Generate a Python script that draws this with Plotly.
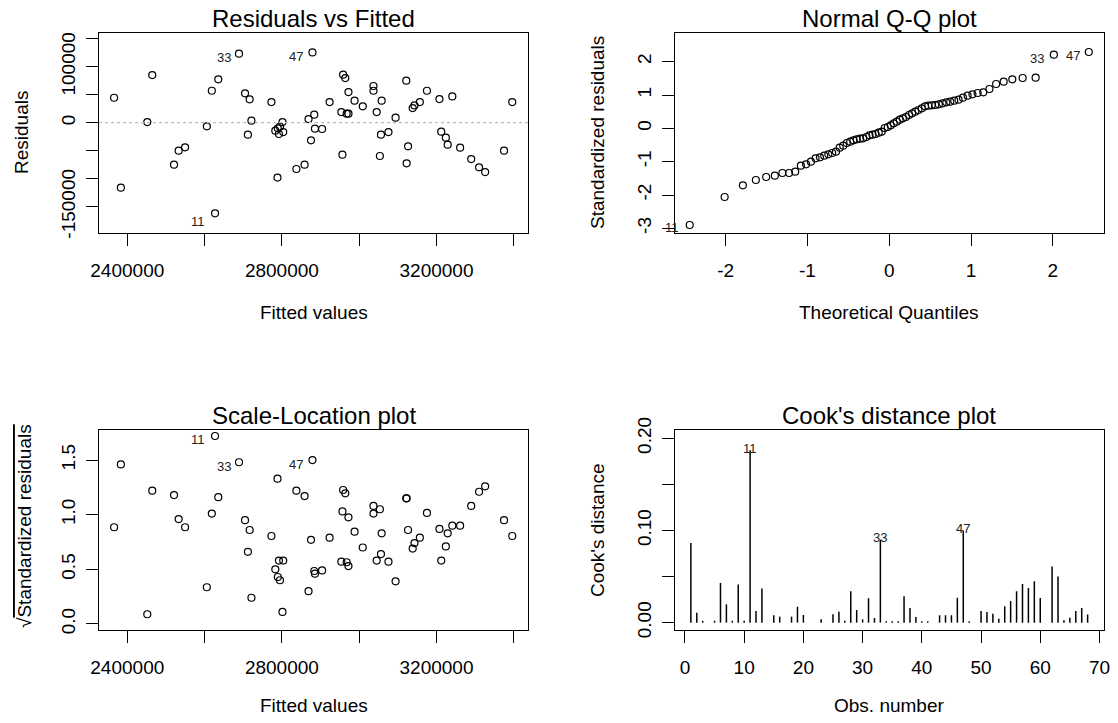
import plotly.graph_objects as go

# ---------------- data ----------------
fitted = [2365850, 2383400, 2451700, 2464600, 2520900, 2532900, 2549500, 2605800,
          2618700, 2627000, 2635400, 2689000, 2704600, 2716600, 2721200, 2712000,
          2772900, 2783000, 2789500, 2795000, 2792300, 2803400, 2801500, 2788600,
          2837500, 2858700, 2868900, 2875300, 2879000, 2883700, 2885500, 2904000,
          2923400, 2956600, 2953800, 2958400, 2964000, 2967600, 2972200, 2972200,
          2988000, 3009200, 3036900, 3036900, 3045200, 3058100, 3056300, 3053500,
          3075700, 3094100, 3121800, 3126400, 3122700, 3138400, 3143000, 3156900,
          3175300, 3207600, 3212200, 3224200, 3228900, 3240900, 3261100, 3289800,
          3310100, 3325800, 3374700, 3395900]

residuals = [44600, -116000, 1200, 85100, -75000, -50000, -44000, -6500,
             57100, -161800, 77400, 123200, 52400, 41700, 3600, -21400,
             36900, -14300, -10100, -7100, -20200, -16700, 1200, -98000,
             -82700, -75000, 6500, -31500, 125500, 14300, -10700, -11300,
             36900, -57100, 19000, 85700, 79700, 16100, 16100, 54700,
             39300, 29200, 65500, 57100, 19000, 39300, -21400, -59500,
             -16700, 8900, 75000, -42200, -72600, 26200, 30900, 36900,
             57100, 42200, -16100, -26800, -39300, 47000, -44600, -64900,
             -79700, -88100, -50000, 36900]

sqrt_abs_std = [0.885, 1.46, 0.089, 1.22, 1.18, 0.96, 0.885, 0.336,
                1.01, 1.72, 1.16, 1.48, 0.95, 0.86, 0.24, 0.66,
                0.805, 0.50, 0.43, 0.40, 0.58, 0.58, 0.11, 1.33,
                1.22, 1.17, 0.30, 0.77, 1.50, 0.485, 0.46, 0.49,
                0.79, 1.03, 0.57, 1.226, 1.196, 0.565, 0.53, 0.976,
                0.845, 0.70, 1.08, 1.01, 0.58, 0.83, 0.64, 1.05,
                0.57, 0.39, 1.15, 0.86, 1.15, 0.69, 0.74, 0.79,
                1.016, 0.87, 0.58, 0.71, 0.83, 0.90, 0.90, 1.08,
                1.21, 1.26, 0.95, 0.805]

qq_theoretical = [-2.44, -2.013, -1.790, -1.631, -1.505, -1.399, -1.307, -1.225,
                  -1.150, -1.081, -1.017, -0.958, -0.901, -0.847, -0.795, -0.745,
                  -0.698, -0.651, -0.606, -0.563, -0.520, -0.478, -0.438, -0.398,
                  -0.357, -0.3186, -0.280, -0.242, -0.204, -0.167, -0.129, -0.0923,
                  -0.0553, -0.0184, 0.0184, 0.0553, 0.0923, 0.129, 0.167, 0.204,
                  0.242, 0.280, 0.3186, 0.357, 0.398, 0.438, 0.478, 0.520,
                  0.563, 0.606, 0.651, 0.698, 0.745, 0.795, 0.847, 0.901,
                  0.958, 1.017, 1.081, 1.150, 1.225, 1.307, 1.399, 1.505,
                  1.631, 1.790, 2.013, 2.44]

qq_std_sorted = [-2.90, -2.06, -1.71, -1.55, -1.46, -1.42, -1.34, -1.34,
                 -1.30, -1.12, -1.08, -1.00, -0.90, -0.87, -0.82, -0.78,
                 -0.74, -0.70, -0.58, -0.52, -0.44, -0.40, -0.36, -0.33,
                 -0.31, -0.30, -0.26, -0.21, -0.19, -0.17, -0.13, -0.10,
                 0.01, 0.04, 0.09, 0.15, 0.20, 0.26, 0.30, 0.34,
                 0.40, 0.45, 0.50, 0.55, 0.60, 0.66, 0.68, 0.69,
                 0.70, 0.72, 0.75, 0.78, 0.80, 0.83, 0.86, 0.92,
                 0.98, 1.02, 1.06, 1.08, 1.18, 1.33, 1.40, 1.47,
                 1.51, 1.52, 2.21, 2.29]

obs_number = list(range(1, 69))
cooks_distance = [0.0865, 0.0108, 0.002, 0.0, 0.002, 0.043, 0.0198, 0.002,
                  0.0414, 0.002, 0.187, 0.0126, 0.037, 0.0, 0.0079, 0.0065,
                  0.0, 0.0065, 0.0173, 0.0083, 0.0, 0.0, 0.0036, 0.0,
                  0.009, 0.0119, 0.002, 0.034, 0.0137, 0.0036, 0.0265, 0.005,
                  0.090, 0.0015, 0.0015, 0.0015, 0.0285, 0.0159, 0.006, 0.0015,
                  0.0015, 0.0, 0.008, 0.008, 0.008, 0.027, 0.0998, 0.0015,
                  0.0, 0.0126, 0.0115, 0.0097, 0.0043, 0.0177, 0.0234, 0.034,
                  0.042, 0.0375, 0.045, 0.0267, 0.0, 0.061, 0.050, 0.0025,
                  0.0054, 0.0126, 0.0159, 0.0087]

outlier_labels = ["11", "33", "47"]
outlier_fit_index = [9, 11, 28]      # position in fitted-order lists
outlier_qq_index = [0, 66, 67]       # position in sorted Q-Q lists
outlier_obs = [11, 33, 47]

titles = ["Residuals vs Fitted", "Normal Q-Q plot", "Scale-Location plot", "Cook's distance plot"]

# ---------------- layout helpers ----------------
W, H = 1118, 723
FONT = "Arial, Liberation Sans, Helvetica, sans-serif"


def px_x(p):
    return p / W


def px_y(p):
    return 1 - p / H


def axis(domain, rng, tickvals, ticktext, angle=0, anchor=None, standoff=8):
    d = dict(domain=domain, range=rng, tickmode="array", tickvals=tickvals,
             ticktext=ticktext, showline=True, mirror=True, linecolor="black",
             linewidth=1, ticks="outside", ticklen=12, tickwidth=1,
             tickcolor="black", showgrid=False, zeroline=False,
             tickfont=dict(size=19, color="black", family=FONT),
             tickangle=angle, ticklabelstandoff=standoff, fixedrange=True,
             automargin=False)
    if anchor:
        d["anchor"] = anchor
    return d


fig = go.Figure()

marker = dict(symbol="circle-open", size=7, color="black", line=dict(width=1.2, color="black"))

fig.add_trace(go.Scatter(x=fitted, y=residuals, mode="markers", marker=marker,
                         xaxis="x", yaxis="y", showlegend=False))
fig.add_trace(go.Scatter(x=qq_theoretical, y=qq_std_sorted, mode="markers", marker=marker,
                         xaxis="x2", yaxis="y2", showlegend=False))
fig.add_trace(go.Scatter(x=fitted, y=sqrt_abs_std, mode="markers", marker=marker,
                         xaxis="x3", yaxis="y3", showlegend=False))

# Cook's distance as vertical spikes (R type = "h")
spike_x, spike_y = [], []
for ob, cd in zip(obs_number, cooks_distance):
    spike_x += [ob, ob, None]
    spike_y += [0, cd, None]
fig.add_trace(go.Scatter(x=spike_x, y=spike_y, mode="lines",
                         line=dict(color="black", width=1.5),
                         xaxis="x4", yaxis="y4", showlegend=False))

top_y = [px_y(233), px_y(33)]
bot_y = [px_y(630), px_y(430)]
left_x = [px_x(99), px_x(528)]
right_x = [px_x(675), px_x(1103.5)]

fit_ticks = [2400000, 2600000, 2800000, 3000000, 3200000, 3400000]
fit_text = ["2400000", "", "2800000", "", "3200000", ""]

YS = 3  # y tick label standoff

fig.update_layout(
    width=W, height=H, margin=dict(l=0, r=0, t=0, b=0, pad=0, autoexpand=False),
    paper_bgcolor="white", plot_bgcolor="white",
    font=dict(family=FONT, color="black"),
    xaxis=axis(left_x, [2326800, 3436700], fit_ticks, fit_text, 0, "y"),
    yaxis=axis(top_y, [-197000, 160200],
               [-150000, -100000, -50000, 0, 50000, 100000, 150000],
               ["-150000", "", "", "0", "", "100000", ""], -90, "x", YS),
    xaxis2=axis(right_x, [-2.62, 2.62], [-2, -1, 0, 1, 2], ["-2", "-1", "0", "1", "2"], 0, "y2"),
    yaxis2=axis(top_y, [-3.14, 2.86], [-3, -2, -1, 0, 1, 2], ["-3", "-2", "-1", "0", "1", "2"],
                -90, "x2", YS),
    xaxis3=axis(left_x, [2326800, 3436700], fit_ticks, fit_text, 0, "y3"),
    yaxis3=axis(bot_y, [-0.055, 1.775], [0, 0.5, 1.0, 1.5], ["0.0", "0.5", "1.0", "1.5"],
                -90, "x3", YS),
    xaxis4=axis(right_x, [-1.68, 70.68], [0, 10, 20, 30, 40, 50, 60, 70],
                ["0", "10", "20", "30", "40", "50", "60", "70"], 0, "y4"),
    yaxis4=axis(bot_y, [-0.008, 0.209], [0, 0.05, 0.10, 0.15, 0.20],
                ["0.00", "", "0.10", "", "0.20"], -90, "x4", YS),
    hovermode=False,
)

# dotted zero line in residual plot
fig.add_shape(type="line", xref="x domain", yref="y", x0=0, x1=1, y0=0, y1=0,
              line=dict(color="#bdbdbd", width=1.3, dash="dot"))

ann = []
# panel titles
centers = [(313.5, 18), (889, 18), (313.5, 416), (889, 416)]
for t, (cx, cy) in zip(titles, centers):
    ann.append(dict(text=t, x=px_x(cx), y=px_y(cy), xref="paper", yref="paper",
                    xanchor="center", yanchor="middle", showarrow=False,
                    font=dict(size=24, color="black", family=FONT)))

# axis titles
xtitles = [("Fitted values", 313.5, 312), ("Theoretical Quantiles", 889, 312),
           ("Fitted values", 313.5, 705), ("Obs. number", 889, 705)]
for t, cx, cy in xtitles:
    ann.append(dict(text=t, x=px_x(cx), y=px_y(cy), xref="paper", yref="paper",
                    xanchor="center", yanchor="middle", showarrow=False,
                    font=dict(size=19, color="black", family=FONT)))
ytitles = [("Residuals", 21, 133), ("Standardized residuals", 597, 133),
           ("√<span style='text-decoration:overline'>Standardized residuals</span>", 24, 526),
           ("Cook's distance", 597, 530)]
for t, cx, cy in ytitles:
    ann.append(dict(text=t, x=px_x(cx), y=px_y(cy), xref="paper", yref="paper",
                    xanchor="center", yanchor="middle", textangle=-90, showarrow=False,
                    font=dict(size=19, color="black", family=FONT)))

lab_font = dict(size=13, color="#222222", family=FONT)
# point labels: residuals vs fitted
shifts1 = [(-8, -8), (-6, -4), (-7, -4)]
for lab, i, (dx, dy) in zip(outlier_labels, outlier_fit_index, shifts1):
    ann.append(dict(text=lab, x=fitted[i], y=residuals[i], xref="x", yref="y",
                    xanchor="right", yanchor="middle", xshift=dx, yshift=dy,
                    showarrow=False, font=lab_font))
# Q-Q
shifts2 = [(-9, -3), (-8, -4), (-7, -4)]
for lab, i, (dx, dy) in zip(outlier_labels, outlier_qq_index, shifts2):
    ann.append(dict(text=lab, x=qq_theoretical[i], y=qq_std_sorted[i], xref="x2", yref="y2",
                    xanchor="right", yanchor="middle", xshift=dx, yshift=dy,
                    showarrow=False, font=lab_font))
# scale-location
shifts3 = [(-8, -3), (-6, -4), (-7, -4)]
for lab, i, (dx, dy) in zip(outlier_labels, outlier_fit_index, shifts3):
    ann.append(dict(text=lab, x=fitted[i], y=sqrt_abs_std[i], xref="x3", yref="y3",
                    xanchor="right", yanchor="middle", xshift=dx, yshift=dy,
                    showarrow=False, font=lab_font))
# Cook's distance
for lab, ob in zip(outlier_labels, outlier_obs):
    ann.append(dict(text=lab, x=ob, y=cooks_distance[ob - 1], xref="x4", yref="y4",
                    xanchor="center", yanchor="middle", yshift=2,
                    showarrow=False, font=lab_font))

fig.update_layout(annotations=ann)

# remove the default 8px page margin so the figure fills the window exactly
fig.write_html("out.html",
               config={"displayModeBar": False, "staticPlot": True},
               post_script="document.body.style.margin='0px';document.body.style.overflow='hidden';")
